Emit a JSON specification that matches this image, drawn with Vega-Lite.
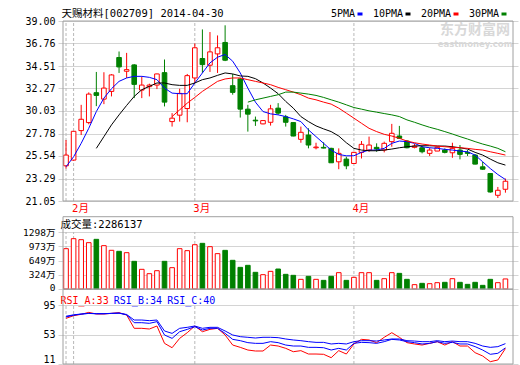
{
  "$schema": "https://vega.github.io/schema/vega-lite/v6.json",
  "width": 460,
  "height": 344,
  "autosize": "none",
  "padding": {"left": 58, "top": 21, "right": 2, "bottom": 0},
  "background": "#ffffff",
  "config": {
    "view": {"stroke": null},
    "font": "DejaVu Sans Mono, Noto Sans CJK SC",
    "axis": {"labelFont": "DejaVu Sans Mono, Noto Sans CJK SC", "titleFont": "DejaVu Sans Mono, Noto Sans CJK SC", "labelFontSize": 10, "labelColor": "#000000", "gridColor": "#d4d4d4", "domain": false, "ticks": false, "labelPadding": 3, "labelOverlap": false},
    "legend": {"labelFont": "DejaVu Sans Mono, Noto Sans CJK SC"}
  },
  "datasets": {
    "months": [{"i": 0}, {"i": 1}, {"i": 17}, {"i": 38}],
    "k": [
      {"i":0,"d":"2014-01-30","o":24.56,"h":27.13,"l":24.29,"c":25.63,"v":918},
      {"i":1,"d":"2014-02-07","o":25.13,"h":28.00,"l":25.07,"c":28.00,"v":1146},
      {"i":2,"d":"2014-02-10","o":28.07,"h":30.64,"l":27.63,"c":29.20,"v":1123},
      {"i":3,"d":"2014-02-11","o":28.87,"h":31.88,"l":28.70,"c":31.71,"v":1055},
      {"i":4,"d":"2014-02-12","o":31.85,"h":33.92,"l":30.51,"c":31.58,"v":1131},
      {"i":5,"d":"2014-02-13","o":31.21,"h":33.89,"l":30.71,"c":32.31,"v":987},
      {"i":6,"d":"2014-02-14","o":31.98,"h":33.70,"l":31.48,"c":33.62,"v":881},
      {"i":7,"d":"2014-02-17","o":35.36,"h":35.96,"l":33.82,"c":34.42,"v":858},
      {"i":8,"d":"2014-02-18","o":33.99,"h":35.82,"l":33.32,"c":34.15,"v":827},
      {"i":9,"d":"2014-02-19","o":34.62,"h":34.70,"l":31.31,"c":32.68,"v":630},
      {"i":10,"d":"2014-02-20","o":32.11,"h":33.48,"l":31.31,"c":32.61,"v":448},
      {"i":11,"d":"2014-02-21","o":32.45,"h":32.75,"l":31.48,"c":32.61,"v":349},
      {"i":12,"d":"2014-02-24","o":32.61,"h":33.75,"l":32.21,"c":33.72,"v":417},
      {"i":13,"d":"2014-02-25","o":33.85,"h":35.16,"l":30.48,"c":30.91,"v":630},
      {"i":14,"d":"2014-02-26","o":28.97,"h":29.81,"l":28.47,"c":29.31,"v":486},
      {"i":15,"d":"2014-02-27","o":29.61,"h":32.25,"l":28.97,"c":31.78,"v":918},
      {"i":16,"d":"2014-02-28","o":30.27,"h":33.72,"l":28.90,"c":33.55,"v":873},
      {"i":17,"d":"2014-03-03","o":33.32,"h":36.76,"l":32.82,"c":36.33,"v":1009},
      {"i":18,"d":"2014-03-04","o":35.26,"h":38.16,"l":33.82,"c":34.65,"v":1040},
      {"i":19,"d":"2014-03-05","o":34.59,"h":37.90,"l":33.92,"c":35.92,"v":964},
      {"i":20,"d":"2014-03-06","o":35.72,"h":37.56,"l":33.82,"c":36.33,"v":805},
      {"i":21,"d":"2014-03-07","o":36.86,"h":38.57,"l":35.00,"c":35.09,"v":880},
      {"i":22,"d":"2014-03-10","o":32.55,"h":33.72,"l":31.65,"c":31.88,"v":653},
      {"i":23,"d":"2014-03-11","o":33.22,"h":33.32,"l":29.37,"c":30.21,"v":493},
      {"i":24,"d":"2014-03-12","o":30.21,"h":30.64,"l":27.97,"c":29.71,"v":539},
      {"i":25,"d":"2014-03-13","o":29.11,"h":29.47,"l":28.54,"c":29.04,"v":380},
      {"i":26,"d":"2014-03-14","o":28.74,"h":29.10,"l":28.70,"c":29.07,"v":326},
      {"i":27,"d":"2014-03-17","o":28.90,"h":30.64,"l":28.57,"c":30.24,"v":402},
      {"i":28,"d":"2014-03-18","o":30.31,"h":30.81,"l":29.64,"c":29.81,"v":455},
      {"i":29,"d":"2014-03-19","o":29.44,"h":29.64,"l":28.47,"c":28.90,"v":334},
      {"i":30,"d":"2014-03-20","o":28.87,"h":28.90,"l":27.50,"c":27.53,"v":311},
      {"i":31,"d":"2014-03-21","o":27.20,"h":28.47,"l":26.86,"c":27.90,"v":220},
      {"i":32,"d":"2014-03-24","o":27.63,"h":28.30,"l":26.30,"c":26.63,"v":288},
      {"i":33,"d":"2014-03-25","o":26.36,"h":26.86,"l":26.20,"c":26.43,"v":220},
      {"i":34,"d":"2014-03-26","o":26.40,"h":26.90,"l":26.30,"c":26.33,"v":197},
      {"i":35,"d":"2014-03-27","o":26.30,"h":26.36,"l":24.86,"c":24.86,"v":288},
      {"i":36,"d":"2014-03-28","o":24.96,"h":26.30,"l":24.22,"c":25.80,"v":372},
      {"i":37,"d":"2014-03-31","o":25.23,"h":25.46,"l":24.22,"c":24.56,"v":197},
      {"i":38,"d":"2014-04-01","o":24.79,"h":25.96,"l":24.79,"c":25.90,"v":266},
      {"i":39,"d":"2014-04-02","o":25.90,"h":27.03,"l":25.29,"c":26.70,"v":372},
      {"i":40,"d":"2014-04-03","o":26.13,"h":27.47,"l":25.96,"c":26.63,"v":372},
      {"i":41,"d":"2014-04-04","o":26.40,"h":26.80,"l":25.96,"c":26.23,"v":197},
      {"i":42,"d":"2014-04-08","o":26.13,"h":26.97,"l":25.90,"c":26.80,"v":235},
      {"i":43,"d":"2014-04-09","o":26.97,"h":28.74,"l":26.46,"c":27.80,"v":372},
      {"i":44,"d":"2014-04-10","o":27.53,"h":28.54,"l":27.23,"c":27.30,"v":356},
      {"i":45,"d":"2014-04-11","o":27.03,"h":27.13,"l":26.30,"c":26.36,"v":220},
      {"i":46,"d":"2014-04-14","o":26.40,"h":26.73,"l":26.30,"c":26.53,"v":99},
      {"i":47,"d":"2014-04-15","o":26.36,"h":26.56,"l":25.80,"c":25.96,"v":129},
      {"i":48,"d":"2014-04-16","o":25.80,"h":26.36,"l":25.54,"c":26.13,"v":121},
      {"i":49,"d":"2014-04-17","o":26.03,"h":26.46,"l":26.03,"c":26.40,"v":144},
      {"i":50,"d":"2014-04-18","o":26.13,"h":26.30,"l":25.80,"c":25.90,"v":152},
      {"i":51,"d":"2014-04-21","o":25.86,"h":26.86,"l":25.36,"c":26.30,"v":235},
      {"i":52,"d":"2014-04-22","o":26.13,"h":26.63,"l":25.20,"c":25.70,"v":152},
      {"i":53,"d":"2014-04-23","o":25.90,"h":26.13,"l":25.54,"c":25.80,"v":106},
      {"i":54,"d":"2014-04-24","o":25.63,"h":25.73,"l":24.70,"c":24.73,"v":152},
      {"i":55,"d":"2014-04-25","o":24.46,"h":24.96,"l":24.16,"c":24.22,"v":83},
      {"i":56,"d":"2014-04-28","o":23.79,"h":23.79,"l":21.88,"c":21.95,"v":220},
      {"i":57,"d":"2014-04-29","o":21.62,"h":22.45,"l":21.35,"c":22.12,"v":144},
      {"i":58,"d":"2014-04-30","o":22.22,"h":23.29,"l":21.88,"c":23.02,"v":229}
    ],
    "ma": [
      {"i":0,"s":"5PMA","v":24.46},{"i":1,"s":"5PMA","v":25.46},{"i":2,"s":"5PMA","v":26.80},{"i":3,"s":"5PMA","v":28.30},{"i":4,"s":"5PMA","v":29.97},{"i":5,"s":"5PMA","v":31.31},{"i":6,"s":"5PMA","v":32.25},{"i":7,"s":"5PMA","v":32.98},{"i":8,"s":"5PMA","v":33.32},{"i":9,"s":"5PMA","v":33.48},{"i":10,"s":"5PMA","v":33.48},{"i":11,"s":"5PMA","v":33.38},{"i":12,"s":"5PMA","v":33.15},{"i":13,"s":"5PMA","v":32.31},{"i":14,"s":"5PMA","v":31.81},{"i":15,"s":"5PMA","v":31.75},{"i":16,"s":"5PMA","v":31.75},{"i":17,"s":"5PMA","v":32.82},{"i":18,"s":"5PMA","v":33.82},{"i":19,"s":"5PMA","v":34.82},{"i":20,"s":"5PMA","v":35.39},{"i":21,"s":"5PMA","v":35.66},{"i":22,"s":"5PMA","v":34.99},{"i":23,"s":"5PMA","v":33.82},{"i":24,"s":"5PMA","v":32.31},{"i":25,"s":"5PMA","v":30.91},{"i":26,"s":"5PMA","v":29.97},{"i":27,"s":"5PMA","v":29.74},{"i":28,"s":"5PMA","v":29.64},{"i":29,"s":"5PMA","v":29.47},{"i":30,"s":"5PMA","v":29.24},{"i":31,"s":"5PMA","v":28.97},{"i":32,"s":"5PMA","v":28.14},{"i":33,"s":"5PMA","v":27.47},{"i":34,"s":"5PMA","v":26.80},{"i":35,"s":"5PMA","v":26.13},{"i":36,"s":"5PMA","v":25.69},{"i":37,"s":"5PMA","v":25.56},{"i":38,"s":"5PMA","v":25.56},{"i":39,"s":"5PMA","v":25.90},{"i":40,"s":"5PMA","v":26.13},{"i":41,"s":"5PMA","v":26.13},{"i":42,"s":"5PMA","v":26.30},{"i":43,"s":"5PMA","v":26.80},{"i":44,"s":"5PMA","v":27.03},{"i":45,"s":"5PMA","v":26.97},{"i":46,"s":"5PMA","v":26.80},{"i":47,"s":"5PMA","v":26.46},{"i":48,"s":"5PMA","v":26.36},{"i":49,"s":"5PMA","v":26.30},{"i":50,"s":"5PMA","v":26.20},{"i":51,"s":"5PMA","v":26.13},{"i":52,"s":"5PMA","v":26.03},{"i":53,"s":"5PMA","v":25.96},{"i":54,"s":"5PMA","v":25.63},{"i":55,"s":"5PMA","v":24.96},{"i":56,"s":"5PMA","v":24.29},{"i":57,"s":"5PMA","v":23.69},{"i":58,"s":"5PMA","v":23.19},
      {"i":4,"s":"10PMA","v":26.30},{"i":5,"s":"10PMA","v":27.47},{"i":6,"s":"10PMA","v":28.64},{"i":7,"s":"10PMA","v":29.64},{"i":8,"s":"10PMA","v":30.58},{"i":9,"s":"10PMA","v":31.48},{"i":10,"s":"10PMA","v":32.15},{"i":11,"s":"10PMA","v":32.48},{"i":12,"s":"10PMA","v":32.82},{"i":13,"s":"10PMA","v":32.82},{"i":14,"s":"10PMA","v":32.65},{"i":15,"s":"10PMA","v":32.58},{"i":16,"s":"10PMA","v":32.58},{"i":17,"s":"10PMA","v":32.82},{"i":18,"s":"10PMA","v":33.15},{"i":19,"s":"10PMA","v":33.32},{"i":20,"s":"10PMA","v":33.58},{"i":21,"s":"10PMA","v":33.82},{"i":22,"s":"10PMA","v":33.72},{"i":23,"s":"10PMA","v":33.52},{"i":24,"s":"10PMA","v":33.48},{"i":25,"s":"10PMA","v":33.25},{"i":26,"s":"10PMA","v":32.82},{"i":27,"s":"10PMA","v":32.31},{"i":28,"s":"10PMA","v":31.75},{"i":29,"s":"10PMA","v":30.98},{"i":30,"s":"10PMA","v":30.31},{"i":31,"s":"10PMA","v":29.47},{"i":32,"s":"10PMA","v":28.97},{"i":33,"s":"10PMA","v":28.54},{"i":34,"s":"10PMA","v":28.24},{"i":35,"s":"10PMA","v":27.97},{"i":36,"s":"10PMA","v":27.53},{"i":37,"s":"10PMA","v":26.86},{"i":38,"s":"10PMA","v":26.30},{"i":39,"s":"10PMA","v":26.13},{"i":40,"s":"10PMA","v":26.06},{"i":41,"s":"10PMA","v":26.06},{"i":42,"s":"10PMA","v":26.13},{"i":43,"s":"10PMA","v":26.23},{"i":44,"s":"10PMA","v":26.36},{"i":45,"s":"10PMA","v":26.46},{"i":46,"s":"10PMA","v":26.53},{"i":47,"s":"10PMA","v":26.56},{"i":48,"s":"10PMA","v":26.56},{"i":49,"s":"10PMA","v":26.53},{"i":50,"s":"10PMA","v":26.53},{"i":51,"s":"10PMA","v":26.46},{"i":52,"s":"10PMA","v":26.36},{"i":53,"s":"10PMA","v":26.23},{"i":54,"s":"10PMA","v":25.90},{"i":55,"s":"10PMA","v":25.63},{"i":56,"s":"10PMA","v":25.23},{"i":57,"s":"10PMA","v":24.86},{"i":58,"s":"10PMA","v":24.63},
      {"i":14,"s":"20PMA","v":29.47},{"i":15,"s":"20PMA","v":30.14},{"i":16,"s":"20PMA","v":30.81},{"i":17,"s":"20PMA","v":31.38},{"i":18,"s":"20PMA","v":31.98},{"i":19,"s":"20PMA","v":32.48},{"i":20,"s":"20PMA","v":32.98},{"i":21,"s":"20PMA","v":33.22},{"i":22,"s":"20PMA","v":33.32},{"i":23,"s":"20PMA","v":33.32},{"i":24,"s":"20PMA","v":33.15},{"i":25,"s":"20PMA","v":32.98},{"i":26,"s":"20PMA","v":32.82},{"i":27,"s":"20PMA","v":32.65},{"i":28,"s":"20PMA","v":32.38},{"i":29,"s":"20PMA","v":32.15},{"i":30,"s":"20PMA","v":31.91},{"i":31,"s":"20PMA","v":31.65},{"i":32,"s":"20PMA","v":31.31},{"i":33,"s":"20PMA","v":31.14},{"i":34,"s":"20PMA","v":30.91},{"i":35,"s":"20PMA","v":30.71},{"i":36,"s":"20PMA","v":30.31},{"i":37,"s":"20PMA","v":29.81},{"i":38,"s":"20PMA","v":29.31},{"i":39,"s":"20PMA","v":28.80},{"i":40,"s":"20PMA","v":28.30},{"i":41,"s":"20PMA","v":27.97},{"i":42,"s":"20PMA","v":27.70},{"i":43,"s":"20PMA","v":27.53},{"i":44,"s":"20PMA","v":27.30},{"i":45,"s":"20PMA","v":27.03},{"i":46,"s":"20PMA","v":26.86},{"i":47,"s":"20PMA","v":26.73},{"i":48,"s":"20PMA","v":26.63},{"i":49,"s":"20PMA","v":26.53},{"i":50,"s":"20PMA","v":26.46},{"i":51,"s":"20PMA","v":26.40},{"i":52,"s":"20PMA","v":26.36},{"i":53,"s":"20PMA","v":26.30},{"i":54,"s":"20PMA","v":26.20},{"i":55,"s":"20PMA","v":26.13},{"i":56,"s":"20PMA","v":25.96},{"i":57,"s":"20PMA","v":25.80},{"i":58,"s":"20PMA","v":25.63},
      {"i":24,"s":"30PMA","v":30.91},{"i":25,"s":"30PMA","v":31.14},{"i":26,"s":"30PMA","v":31.31},{"i":27,"s":"30PMA","v":31.48},{"i":28,"s":"30PMA","v":31.65},{"i":29,"s":"30PMA","v":31.91},{"i":30,"s":"30PMA","v":31.91},{"i":31,"s":"30PMA","v":31.81},{"i":32,"s":"30PMA","v":31.71},{"i":33,"s":"30PMA","v":31.58},{"i":34,"s":"30PMA","v":31.38},{"i":35,"s":"30PMA","v":31.14},{"i":36,"s":"30PMA","v":30.91},{"i":37,"s":"30PMA","v":30.64},{"i":38,"s":"30PMA","v":30.37},{"i":39,"s":"30PMA","v":30.21},{"i":40,"s":"30PMA","v":30.04},{"i":41,"s":"30PMA","v":29.91},{"i":42,"s":"30PMA","v":29.77},{"i":43,"s":"30PMA","v":29.64},{"i":44,"s":"30PMA","v":29.47},{"i":45,"s":"30PMA","v":29.14},{"i":46,"s":"30PMA","v":28.90},{"i":47,"s":"30PMA","v":28.64},{"i":48,"s":"30PMA","v":28.40},{"i":49,"s":"30PMA","v":28.20},{"i":50,"s":"30PMA","v":27.97},{"i":51,"s":"30PMA","v":27.73},{"i":52,"s":"30PMA","v":27.47},{"i":53,"s":"30PMA","v":27.23},{"i":54,"s":"30PMA","v":26.97},{"i":55,"s":"30PMA","v":26.73},{"i":56,"s":"30PMA","v":26.53},{"i":57,"s":"30PMA","v":26.30},{"i":58,"s":"30PMA","v":25.96}
    ],
    "rsi": [
      {"i":0,"a":76.0,"b":78.0,"c":79.0},{"i":1,"a":79.8,"b":80.5,"c":81.0},{"i":2,"a":81.7,"b":82.0,"c":82.2},{"i":3,"a":84.5,"b":83.0,"c":83.1},{"i":4,"a":82.2,"b":82.5,"c":82.7},{"i":5,"a":82.2,"b":82.5,"c":82.7},{"i":6,"a":83.1,"b":83.0,"c":83.1},{"i":7,"a":84.1,"b":83.5,"c":83.3},{"i":8,"a":80.8,"b":81.0,"c":81.5},{"i":9,"a":61.8,"b":69.8,"c":73.6},
      {"i":10,"a":61.8,"b":69.8,"c":73.6},{"i":11,"a":60.8,"b":68.9,"c":72.7},{"i":12,"a":65.1,"b":71.3,"c":73.6},{"i":13,"a":40.4,"b":52.3,"c":58.0},{"i":14,"a":34.2,"b":47.5,"c":54.6},{"i":15,"a":47.5,"b":57.0,"c":61.8},{"i":16,"a":55.6,"b":60.3,"c":63.2},{"i":17,"a":65.1,"b":64.1,"c":65.1},{"i":18,"a":57.0,"b":59.4,"c":61.8},{"i":19,"a":60.3,"b":61.8,"c":63.2},
      {"i":20,"a":61.8,"b":61.8,"c":63.2},{"i":21,"a":52.3,"b":54.6,"c":58.0},{"i":22,"a":38.0,"b":46.1,"c":52.3},{"i":23,"a":34.7,"b":44.2,"c":49.9},{"i":24,"a":30.9,"b":41.4,"c":49.0},{"i":25,"a":29.5,"b":40.4,"c":48.0},{"i":26,"a":29.5,"b":40.4,"c":49.0},{"i":27,"a":38.0,"b":42.8,"c":49.0},{"i":28,"a":36.6,"b":41.4,"c":48.5},{"i":29,"a":33.3,"b":38.0,"c":46.6},
      {"i":30,"a":28.5,"b":36.6,"c":45.2},{"i":31,"a":30.0,"b":36.6,"c":44.2},{"i":32,"a":25.2,"b":34.7,"c":42.8},{"i":33,"a":25.2,"b":34.7,"c":41.8},{"i":34,"a":24.8,"b":34.2,"c":41.8},{"i":35,"a":20.0,"b":30.9,"c":39.5},{"i":36,"a":30.0,"b":33.3,"c":40.4},{"i":37,"a":25.2,"b":30.9,"c":39.5},{"i":38,"a":39.5,"b":40.4,"c":42.8},{"i":39,"a":46.1,"b":41.8,"c":44.2},
      {"i":40,"a":45.2,"b":41.4,"c":44.2},{"i":41,"a":41.4,"b":40.4,"c":43.7},{"i":42,"a":49.0,"b":42.8,"c":45.2},{"i":43,"a":55.6,"b":46.1,"c":46.6},{"i":44,"a":49.0,"b":45.2,"c":46.6},{"i":45,"a":41.4,"b":42.8,"c":44.2},{"i":46,"a":39.5,"b":41.4,"c":43.7},{"i":47,"a":38.0,"b":39.5,"c":42.8},{"i":48,"a":40.4,"b":40.4,"c":42.8},{"i":49,"a":42.8,"b":42.8,"c":44.2},
      {"i":50,"a":38.0,"b":40.4,"c":42.8},{"i":51,"a":42.8,"b":41.8,"c":43.7},{"i":52,"a":36.6,"b":39.5,"c":42.8},{"i":53,"a":36.6,"b":39.5,"c":42.8},{"i":54,"a":27.1,"b":35.7,"c":40.4},{"i":55,"a":22.4,"b":30.9,"c":36.6},{"i":56,"a":14.3,"b":24.8,"c":34.7},{"i":57,"a":16.7,"b":26.2,"c":35.7},{"i":58,"a":33.0,"b":34.0,"c":40.0}
    ]
  },
  "layer": [
    {
      "layer": [
        {
          "data": {"name": "months"},
          "mark": {"type": "rule", "color": "#b8b8b8", "strokeDash": [3, 2], "strokeWidth": 1},
          "encoding": {
            "x": {"field": "i", "type": "quantitative", "scale": {"domain": [-0.4, 59], "nice": false, "zero": false},
              "axis": {"values": [1, 17, 38], "labelExpr": "datum.value == 1 ? '2月' : datum.value == 17 ? '3月' : '4月'", "orient": "bottom", "offset": -164, "title": null, "grid": false, "domain": false, "ticks": false, "labelColor": "#ff0000", "labelAlign": "left", "labelBaseline": "top", "labelOffset": -2, "labelPadding": 2, "labelFontSize": 10.5, "labelFlush": false}},
            "y": {"datum": 21.05, "type": "quantitative", "scale": {"domain": [21.05, 39], "range": [180, 0], "nice": false, "zero": false},
              "axis": {"orient": "left", "values": [21.05, 23.29, 25.54, 27.78, 30.03, 32.27, 34.51, 36.76, 39], "format": ".2f", "grid": true, "gridColor": "#d4d4d4",
                "title": "天赐材料[002709] 2014-04-30", "titleAngle": 0, "titleAlign": "left", "titleBaseline": "middle", "titleX": 3, "titleY": -8, "titleFontSize": 10.5, "titleFontWeight": "normal", "titleColor": "#000000"}},
            "y2": {"datum": 39}
          }
        },
        {
          "data": {"name": "k"},
          "mark": {"type": "rule", "strokeWidth": 1},
          "encoding": {
            "x": {"field": "i", "type": "quantitative"},
            "y": {"field": "l", "type": "quantitative"},
            "y2": {"field": "h"},
            "color": {"condition": {"test": "datum.c >= datum.o", "value": "#ff0000"}, "value": "#008000"}
          }
        },
        {
          "data": {"name": "k"},
          "mark": {"type": "bar", "orient": "vertical", "size": 4.6, "strokeWidth": 1},
          "encoding": {
            "x": {"field": "i", "type": "quantitative"},
            "y": {"field": "o", "type": "quantitative"},
            "y2": {"field": "c"},
            "fill": {"condition": {"test": "datum.c >= datum.o", "value": "#ffffff"}, "value": "#008000"},
            "stroke": {"condition": {"test": "datum.c >= datum.o", "value": "#ff0000"}, "value": "#008000"}
          }
        },
        {
          "data": {"name": "ma"},
          "mark": {"type": "line", "strokeWidth": 1},
          "encoding": {
            "x": {"field": "i", "type": "quantitative"},
            "y": {"field": "v", "type": "quantitative"},
            "color": {"field": "s", "type": "nominal",
              "scale": {"domain": ["5PMA", "10PMA", "20PMA", "30PMA"], "range": ["#0000ff", "#000000", "#ff0000", "#008000"]},
              "legend": {"orient": "none", "legendX": 297, "legendY": -12, "direction": "horizontal", "columns": 4, "title": null, "padding": 0,
                "labelFontSize": 10, "labelColor": "#000000", "symbolType": "stroke", "symbolStrokeWidth": 3, "symbolSize": 25,
                "labelAlign": "right", "labelOffset": -10, "columnPadding": 3}}
          }
        },
        {
          "data": {"values": [{}]},
          "mark": {"type": "text", "text": "东方财富网", "fontSize": 14, "fontWeight": "bold", "color": "#d8d8d8", "font": "Noto Sans CJK SC"},
          "encoding": {
            "x": {"datum": 54, "type": "quantitative"},
            "y": {"datum": 38.1, "type": "quantitative"}
          }
        },
        {
          "data": {"values": [{}]},
          "mark": {"type": "text", "text": "eastmoney.com", "fontSize": 8.5, "fontWeight": "bold", "color": "#d8d8d8", "font": "DejaVu Sans"},
          "encoding": {
            "x": {"datum": 54, "type": "quantitative"},
            "y": {"datum": 36.72, "type": "quantitative"}
          }
        },
        {
          "data": {"values": [{}]},
          "mark": {"type": "rect", "fill": "transparent", "stroke": "#a0a0a0", "strokeWidth": 1},
          "encoding": {
            "x": {"datum": -0.4, "type": "quantitative"},
            "x2": {"datum": 59},
            "y": {"datum": 21.05, "type": "quantitative"},
            "y2": {"datum": 39}
          }
        }
      ]
    },
    {
      "layer": [
        {
          "data": {"name": "months"},
          "mark": {"type": "rule", "color": "#b8b8b8", "strokeDash": [3, 2], "strokeWidth": 1},
          "encoding": {
            "x": {"field": "i", "type": "quantitative"},
            "y": {"datum": 0, "type": "quantitative", "scale": {"domain": [0, 1298], "range": [268, 211], "nice": false, "zero": false},
              "axis": {"orient": "left", "values": [0, 324, 649, 973, 1298], "format": "d", "labelExpr": "datum.value == 0 ? '0' : datum.label + '万'", "grid": true, "gridColor": "#d4d4d4", "labelOverlap": false, "labelFontSize": 9.5,
                "labelBaseline": {"condition": {"test": "datum.value == 0", "value": "bottom"}, "value": "middle"},
                "labelOffset": {"condition": {"test": "datum.value == 0", "value": 3}, "value": 0},
                "title": "成交量:2286137", "titleAngle": 0, "titleAlign": "left", "titleBaseline": "middle", "titleX": 2, "titleY": 203, "titleFontSize": 10.5, "titleFontWeight": "normal", "titleColor": "#000000"}},
            "y2": {"datum": 1298}
          }
        },
        {
          "data": {"name": "k"},
          "mark": {"type": "bar", "orient": "vertical", "size": 4.6, "strokeWidth": 1},
          "encoding": {
            "x": {"field": "i", "type": "quantitative"},
            "y": {"field": "v", "type": "quantitative"},
            "fill": {"condition": {"test": "datum.c >= datum.o", "value": "#ffffff"}, "value": "#008000"},
            "stroke": {"condition": {"test": "datum.c >= datum.o", "value": "#ff0000"}, "value": "#008000"}
          }
        },
        {
          "data": {"values": [{}]},
          "mark": {"type": "rect", "fill": "transparent", "stroke": "#a0a0a0", "strokeWidth": 1},
          "encoding": {
            "x": {"datum": -0.4, "type": "quantitative"},
            "x2": {"datum": 59},
            "y": {"datum": 0, "type": "quantitative"},
            "y2": {"datum": 1646}
          }
        }
      ]
    },
    {
      "layer": [
        {
          "layer": [
            {
              "data": {"name": "months"},
              "mark": {"type": "rule", "color": "#b8b8b8", "strokeDash": [3, 2], "strokeWidth": 1},
              "encoding": {
                "x": {"field": "i", "type": "quantitative"},
                "y": {"datum": 11, "type": "quantitative", "scale": {"domain": [11, 95], "range": [343, 284], "nice": false, "zero": false},
                  "axis": {"orient": "left", "values": [11, 53, 95], "grid": true, "gridColor": "#d4d4d4", "labelOverlap": false,
                    "labelBaseline": {"condition": {"test": "datum.value == 11", "value": "bottom"}, "value": "middle"},
                    "title": "RSI_A:33", "titleAngle": 0, "titleAlign": "left", "titleBaseline": "middle", "titleX": 2, "titleY": 279, "titleFontSize": 10, "titleFontWeight": "normal", "titleColor": "#ff0000"}},
                "y2": {"datum": 95}
              }
            },
            {
              "data": {"name": "rsi"},
              "mark": {"type": "line", "color": "#ff0000", "strokeWidth": 1},
              "encoding": {
                "x": {"field": "i", "type": "quantitative"},
                "y": {"field": "a", "type": "quantitative"}
              }
            },
            {
              "data": {"values": [{}]},
              "mark": {"type": "rect", "fill": "transparent", "stroke": "#a0a0a0", "strokeWidth": 1},
              "encoding": {
                "x": {"datum": -0.4, "type": "quantitative"},
                "x2": {"datum": 59},
                "y": {"datum": 11, "type": "quantitative"},
                "y2": {"datum": 117.4}
              }
            }
          ]
        },
        {
          "data": {"name": "rsi"},
          "mark": {"type": "line", "color": "#0000ff", "strokeWidth": 1},
          "encoding": {
            "x": {"field": "i", "type": "quantitative"},
            "y": {"field": "b", "type": "quantitative", "scale": {"domain": [11, 95], "range": [343, 284], "nice": false, "zero": false},
              "axis": {"orient": "left", "labels": false, "grid": false, "domain": false, "ticks": false,
                "title": "RSI_B:34", "titleAngle": 0, "titleAlign": "left", "titleBaseline": "middle", "titleX": 55.3, "titleY": 279, "titleFontSize": 10, "titleFontWeight": "normal", "titleColor": "#0000ff"}}
          }
        },
        {
          "data": {"name": "rsi"},
          "mark": {"type": "line", "color": "#0000ff", "strokeWidth": 1},
          "encoding": {
            "x": {"field": "i", "type": "quantitative"},
            "y": {"field": "c", "type": "quantitative", "scale": {"domain": [11, 95], "range": [343, 284], "nice": false, "zero": false},
              "axis": {"orient": "left", "labels": false, "grid": false, "domain": false, "ticks": false,
                "title": "RSI_C:40", "titleAngle": 0, "titleAlign": "left", "titleBaseline": "middle", "titleX": 108.7, "titleY": 279, "titleFontSize": 10, "titleFontWeight": "normal", "titleColor": "#0000ff"}}
          }
        }
      ],
      "resolve": {"scale": {"y": "independent"}, "axis": {"y": "independent"}}
    }
  ],
  "resolve": {"scale": {"y": "independent"}, "axis": {"y": "independent"}}
}
